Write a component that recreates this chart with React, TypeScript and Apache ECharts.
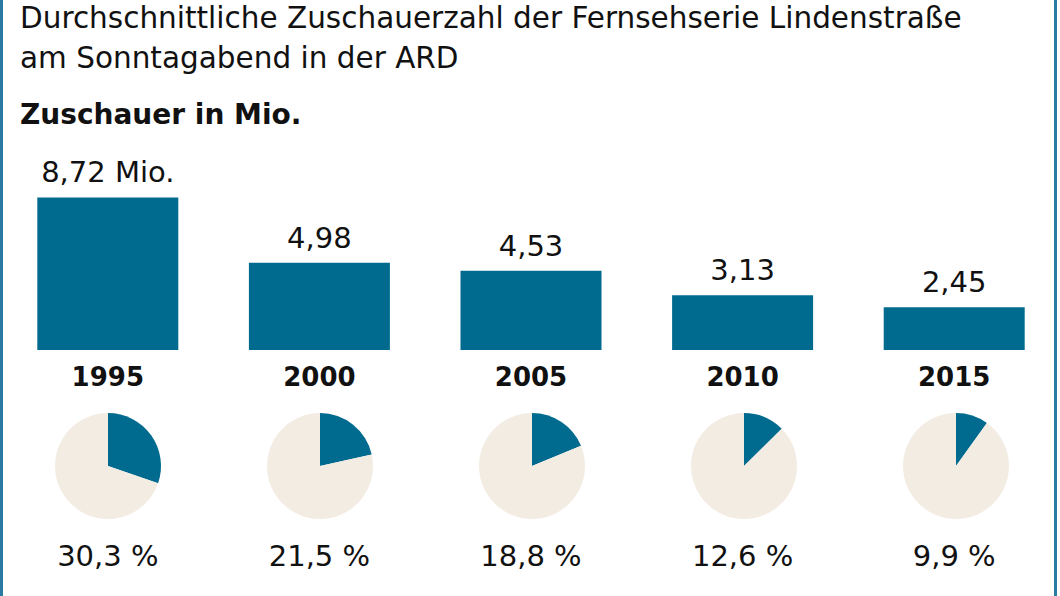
import React, { useEffect, useRef } from "react";
import * as echarts from "echarts";

const titleLines = [
  "Durchschnittliche Zuschauerzahl der Fernsehserie Lindenstraße",
  "am Sonntagabend in der ARD",
];
const subtitle = "Zuschauer in Mio.";
const years = ["1995", "2000", "2005", "2010", "2015"];
const viewers = [8.72, 4.98, 4.53, 3.13, 2.45];
const shares = [30.3, 21.5, 18.8, 12.6, 9.9];

const BLUE = "#006b8f";
const BEIGE = "#f3ece3";
const TEXT = "#111111";
const FONT = "'DejaVu Sans', sans-serif";

const W = 1060;
const H = 596;
const GRID_LEFT = 2;
const GRID_WIDTH = 1060;

const fmt = (v: number, d: number) => v.toFixed(d).replace(".", ",");

export default function App() {
  const ref = useRef<HTMLDivElement>(null);

  useEffect(() => {
    if (!ref.current) return;
    const chart = echarts.init(ref.current, undefined, { renderer: "svg" });
    const band = GRID_WIDTH / years.length;

    const pieSeries = shares.map((s, i) => ({
      type: "pie",
      silent: true,
      radius: 53,
      center: [GRID_LEFT + (i + 0.5) * band, 466],
      startAngle: 90,
      clockwise: true,
      label: { show: false },
      labelLine: { show: false },
      data: [
        { value: s, name: years[i] + " Anteil", itemStyle: { color: BLUE } },
        { value: 100 - s, name: years[i] + " Rest", itemStyle: { color: BEIGE } },
      ],
    }));

    chart.setOption({
      animation: false,
      backgroundColor: "#ffffff",
      title: [
        {
          text: titleLines.join("\n"),
          left: 20,
          top: -2,
          padding: 0,
          textStyle: {
            fontFamily: FONT,
            fontSize: 29.5,
            fontWeight: "normal",
            lineHeight: 40,
            color: TEXT,
          },
        },
        {
          text: subtitle,
          left: 20,
          top: 99,
          padding: 0,
          textStyle: {
            fontFamily: FONT,
            fontSize: 28,
            fontWeight: "bold",
            lineHeight: 30,
            color: TEXT,
          },
        },
      ],
      graphic: [
        { type: "rect", left: 0, top: 0, shape: { width: 3, height: H }, style: { fill: "#2a7ba2" } },
        { type: "rect", left: 1054, top: 0, shape: { width: 3, height: H }, style: { fill: "#2a7ba2" } },
      ],
      grid: [
        { left: GRID_LEFT, width: GRID_WIDTH, top: 175, bottom: H - 350, containLabel: false },
        { left: GRID_LEFT, width: GRID_WIDTH, top: 520, height: 1, containLabel: false },
      ],
      xAxis: [
        {
          type: "category",
          gridIndex: 0,
          data: years,
          axisLine: { show: false },
          axisTick: { show: false },
          axisLabel: {
            margin: 12,
            fontFamily: FONT,
            fontSize: 26,
            fontWeight: "bold",
            lineHeight: 30,
            color: TEXT,
          },
        },
        {
          type: "category",
          gridIndex: 1,
          data: shares.map((s) => fmt(s, 1) + " %"),
          axisLine: { show: false },
          axisTick: { show: false },
          axisLabel: {
            margin: 20,
            fontFamily: FONT,
            fontSize: 29,
            lineHeight: 30,
            color: TEXT,
          },
        },
      ],
      yAxis: [
        { type: "value", gridIndex: 0, min: 0, max: 10, show: false },
        { type: "value", gridIndex: 1, min: 0, max: 1, show: false },
      ],
      series: [
        {
          type: "bar",
          xAxisIndex: 0,
          yAxisIndex: 0,
          data: viewers,
          barWidth: 141,
          silent: true,
          itemStyle: { color: BLUE },
          label: {
            show: true,
            position: "top",
            distance: 10,
            fontFamily: FONT,
            fontSize: 29,
            lineHeight: 30,
            color: TEXT,
            formatter: (p: any) => fmt(p.value, 2) + (p.dataIndex === 0 ? " Mio." : ""),
          },
        },
        ...pieSeries,
      ],
    });

    return () => chart.dispose();
  }, []);

  return (
    <div
      ref={ref}
      style={{ position: "absolute", left: 0, top: 0, width: W, height: H }}
    />
  );
}
